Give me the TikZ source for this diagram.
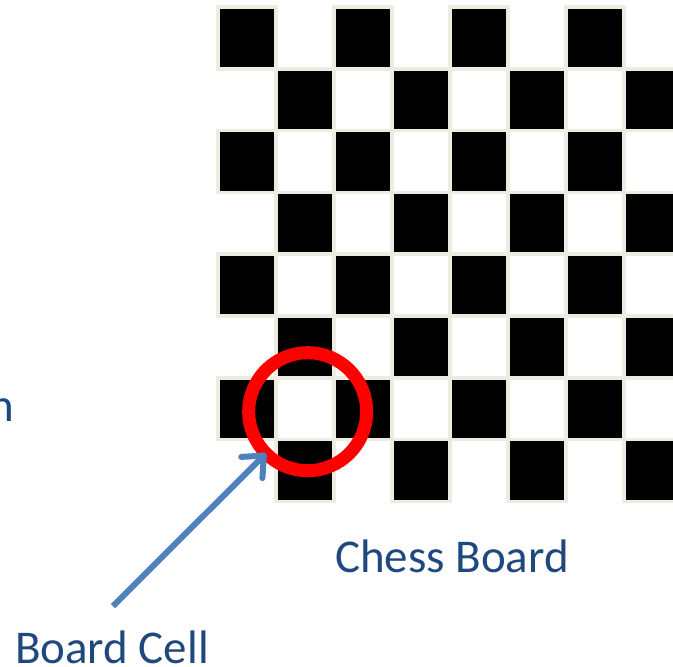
\documentclass[tikz,border=0pt]{standalone}
\usepackage{fontspec}
\setmainfont{Carlito}
\usepackage{tikz}
\usetikzlibrary{arrows.meta,positioning}
\definecolor{Ink}{HTML}{1F497D}
\definecolor{Arrow}{HTML}{4F81BD}
\definecolor{Edge}{HTML}{EEECE1}
\definecolor{Ring}{HTML}{FF0000}
\newcommand{\cellw}{58}
\newcommand{\cellh}{61.8}

\begin{document}
\begin{tikzpicture}[
  x=1pt,y=-1pt,
  every node/.style={font=\fontsize{47}{50}\selectfont,text=Ink,inner sep=1pt},
  darkcell/.style={fill=black,draw=Edge,line width=3.5pt},
  ring/.style={circle,draw=Ring,line width=13pt,minimum size=118pt,inner sep=0pt,outer sep=0pt},
  arr/.style={-{Straight Barb[length=17pt,width=30pt,line cap=round,line join=round]},line width=6pt,color=Arrow}
]
\useasboundingbox (0,0) rectangle (673,667);
% board: 8 x 8, black where row+col is even
\foreach \r in {0,...,7}{
  \foreach \c in {0,...,7}{
    \pgfmathtruncatemacro{\odd}{mod(\r+\c,2)}
    \ifnum\odd=0
      \draw[darkcell] (218+\c*\cellw,7+\r*\cellh) rectangle ++(\cellw,\cellh);
    \fi
  }
}
\node[ring] (cell) at (307.7,411.7) {};
\node[anchor=base] (board) at (452,572) {Chess Board};
\node[anchor=base] (celltext) at (112,663) {Board Cell};
\node[anchor=base east,inner sep=0pt] (cut) at (14,421) {n};
\coordinate (tail) at (113,606);
\draw[arr] (tail) -- (cell.225);
\end{tikzpicture}
\end{document}
